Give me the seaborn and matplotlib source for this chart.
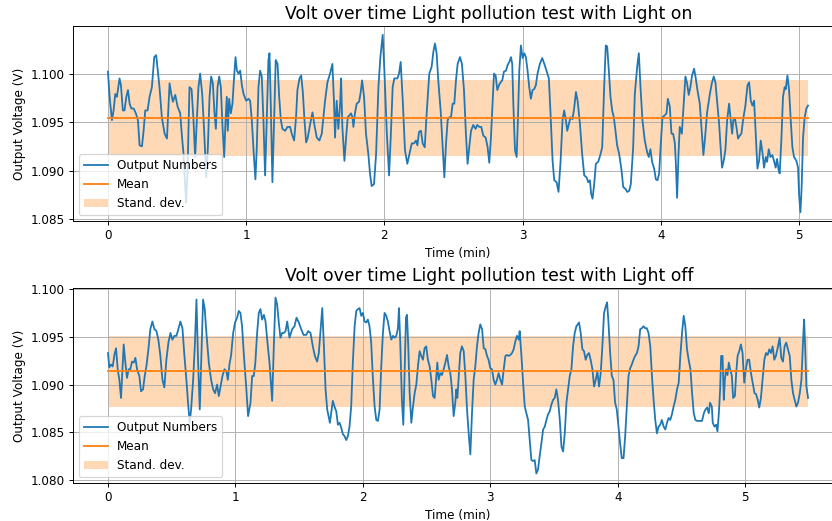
import numpy as np
import pandas as pd
import matplotlib
matplotlib.use("Agg")
import matplotlib.pyplot as plt
import seaborn as sns
from matplotlib.ticker import FormatStrFormatter

# light on run: time (min) and output voltage (V)
t_on = [
    0.000, 0.012, 0.029, 0.041, 0.053, 0.065, 0.084, 0.094, 0.108, 0.120,
    0.133, 0.145, 0.157, 0.169, 0.186, 0.202, 0.217, 0.229, 0.246, 0.258,
    0.270, 0.287, 0.301, 0.318, 0.335, 0.349, 0.361, 0.373, 0.390, 0.410,
    0.427, 0.446, 0.458, 0.470, 0.487, 0.504, 0.523, 0.535, 0.547, 0.559,
    0.566, 0.576, 0.590, 0.605, 0.619, 0.631, 0.643, 0.655, 0.667, 0.682,
    0.696, 0.711, 0.723, 0.735, 0.747, 0.759, 0.771, 0.781, 0.793, 0.805,
    0.817, 0.829, 0.841, 0.851, 0.860, 0.867, 0.877, 0.889, 0.901, 0.913,
    0.923, 0.933, 0.945, 0.957, 0.969, 0.981, 1.000, 1.017, 1.029, 1.041,
    1.055, 1.067, 1.077, 1.089, 1.101, 1.113, 1.125, 1.137, 1.149, 1.161,
    1.169, 1.178, 1.190, 1.202, 1.214, 1.227, 1.239, 1.251, 1.263, 1.282,
    1.299, 1.318, 1.330, 1.347, 1.361, 1.371, 1.386, 1.398, 1.410, 1.422,
    1.434, 1.446, 1.463, 1.480, 1.494, 1.511, 1.530, 1.547, 1.571, 1.588,
    1.607,
    1.624, 1.636, 1.643, 1.655, 1.667, 1.680, 1.687, 1.696, 1.711, 1.723,
    1.735, 1.747, 1.759, 1.769, 1.776, 1.788, 1.800, 1.817, 1.829, 1.839,
    1.853, 1.867, 1.884, 1.896, 1.908, 1.925, 1.940, 1.957, 1.971, 1.988,
    2.000, 2.017, 2.034, 2.046, 2.060, 2.072, 2.094, 2.106, 2.118, 2.133,
    2.149, 2.166, 2.181, 2.198, 2.214, 2.229, 2.239, 2.251, 2.265, 2.277,
    2.292, 2.306, 2.325, 2.342, 2.354, 2.366, 2.378, 2.390, 2.407, 2.422,
    2.434, 2.446, 2.458, 2.470, 2.482, 2.494, 2.506, 2.518, 2.530, 2.547,
    2.561, 2.576, 2.590, 2.602, 2.614, 2.627, 2.643, 2.660, 2.672, 2.687,
    2.701, 2.716, 2.733, 2.747, 2.759, 2.771, 2.784, 2.793, 2.805, 2.817,
    2.829, 2.841, 2.853, 2.865, 2.880, 2.892, 2.904, 2.916, 2.925, 2.933,
    2.945, 2.957, 2.966, 2.976, 2.988, 3.000, 3.012, 3.024, 3.036, 3.048,
    3.060, 3.072, 3.084, 3.096, 3.108, 3.125, 3.142, 3.157, 3.173, 3.190,
    3.202, 3.217, 3.229, 3.246, 3.260, 3.275, 3.289, 3.301, 3.313, 3.323,
    3.335, 3.347, 3.361, 3.373, 3.386, 3.398, 3.415,
    3.431, 3.446, 3.463, 3.475, 3.487, 3.496, 3.506, 3.518, 3.530, 3.547,
    3.564, 3.576, 3.590, 3.602, 3.612, 3.624, 3.636, 3.648, 3.660, 3.672,
    3.684, 3.699, 3.716, 3.728, 3.745, 3.757, 3.771, 3.783, 3.800, 3.812,
    3.829, 3.841, 3.853, 3.867, 3.884, 3.901, 3.913, 3.925, 3.937, 3.952,
    3.964, 3.976, 3.988, 4.000, 4.012, 4.029, 4.041, 4.051, 4.065, 4.077,
    4.089, 4.101, 4.108, 4.118, 4.128, 4.137, 4.152, 4.166, 4.178, 4.190,
    4.202, 4.214, 4.226, 4.241, 4.253, 4.265, 4.282, 4.296, 4.308, 4.320,
    4.335, 4.354, 4.369, 4.383, 4.395, 4.407, 4.422, 4.434, 4.443, 4.455,
    4.467, 4.480, 4.494, 4.506, 4.516, 4.525, 4.537, 4.547, 4.559, 4.571,
    4.583, 4.595, 4.612, 4.627, 4.639, 4.651, 4.663, 4.675, 4.687, 4.699,
    4.711, 4.723, 4.735, 4.747, 4.759, 4.769, 4.781, 4.793, 4.807, 4.819,
    4.831, 4.841, 4.853, 4.860, 4.872, 4.884, 4.896, 4.904, 4.916, 4.928,
    4.940, 4.952, 4.964, 4.981, 4.993, 5.000, 5.010, 5.019, 5.029, 5.041,
    5.053, 5.065,
]
v_on = [
    1.1002, 1.0976, 1.0952, 1.0962, 1.0979, 1.0976, 1.0995, 1.0988, 1.0962, 1.0962,
    1.0976, 1.0983, 1.0969, 1.0964, 1.0964, 1.0959, 1.0952, 1.0926, 1.0925, 1.0941,
    1.0962, 1.0962, 1.0976, 1.0986, 1.1017, 1.1019, 1.1003, 1.0986, 1.0955, 1.0938,
    1.0933, 1.0990, 1.0979, 1.0971, 1.0978, 1.0966, 1.0959, 1.0936, 1.0917, 1.0883,
    1.0867, 1.0900, 1.0986, 1.0984, 1.0952, 1.0914, 1.0952, 1.0986, 1.1000, 1.0979,
    1.0941, 1.0893, 1.0924, 1.0976, 1.0997, 1.0990, 1.0959, 1.0943, 1.0986, 1.0997,
    1.0986, 1.0945, 1.0914, 1.0952, 1.0976, 1.0941, 1.0974, 1.0959, 1.0969, 1.0997,
    1.1017, 1.1003, 1.1000, 1.1003, 1.0988, 1.0979, 1.0972, 1.0974, 1.0972, 1.0952,
    1.0917, 1.0891, 1.0924, 1.0986, 1.1003, 1.0997, 1.0952, 1.0895, 1.0952, 1.1014,
    1.1021, 1.0969, 1.0888, 1.0952, 1.1014, 1.1010, 1.0976, 1.0952, 1.0943, 1.0941,
    1.0945, 1.0945, 1.0938, 1.0931, 1.0955, 1.0983, 1.0995, 1.0998, 1.0981, 1.0952,
    1.0929, 1.0934, 1.0948, 1.0960, 1.0947, 1.0934, 1.0931, 1.0938, 1.0972, 1.0991,
    1.1000,
    1.1010, 1.0969, 1.0934, 1.0972, 1.0943, 1.0969, 1.0995, 1.0945, 1.0910, 1.0934,
    1.0955, 1.0957, 1.0959, 1.0955, 1.0945, 1.0960, 1.0969, 1.0971, 1.0981, 1.0993,
    1.0976, 1.0938, 1.0917, 1.0897, 1.0884, 1.0886, 1.0917, 1.0986, 1.1017, 1.1040,
    1.1003, 1.0941, 1.0895, 1.0934, 1.0986, 1.0995, 1.0995, 1.1000, 1.1012, 1.0972,
    1.0921, 1.0907, 1.0917, 1.0928, 1.0928, 1.0931, 1.0926, 1.0940, 1.0941, 1.0928,
    1.0924, 1.0959, 1.1000, 1.1007, 1.1022, 1.1031, 1.1021, 1.0993, 1.0962, 1.0924,
    1.0893, 1.0928, 1.0952, 1.0955, 1.0955, 1.0969, 1.0969, 1.0993, 1.1010, 1.1017,
    1.1010, 1.0983, 1.0938, 1.0907, 1.0924, 1.0941, 1.0947, 1.0943, 1.0947, 1.0945,
    1.0945, 1.0936, 1.0934, 1.0924, 1.0908, 1.0934, 1.0972, 1.1000, 1.0998, 1.0983,
    1.0988, 1.0991, 1.0993, 1.1002, 1.1003, 1.1009, 1.1012, 1.1017, 1.1010, 1.0969,
    1.0921, 1.0914, 1.0952, 1.1003, 1.1029, 1.1016, 1.1021, 1.1017, 1.1003, 1.0986,
    1.0974, 1.0983, 1.0984, 1.0988, 1.1000, 1.1010, 1.1016, 1.1010, 1.1003, 1.0995,
    1.0959, 1.0910, 1.0890, 1.0888, 1.0878, 1.0910, 1.0952, 1.0962, 1.0952, 1.0941,
    1.0948, 1.0955, 1.0953, 1.0964, 1.0981, 1.0972, 1.0948,
    1.0917, 1.0895, 1.0893, 1.0888, 1.0890, 1.0876, 1.0871, 1.0886, 1.0907, 1.0909,
    1.0917, 1.0924, 1.0986, 1.1029, 1.1028, 1.1003, 1.0976, 1.0962, 1.0955, 1.0941,
    1.0926, 1.0917, 1.0900, 1.0883, 1.0881, 1.0878, 1.0879, 1.0886, 1.0924, 1.0979,
    1.1007, 1.1021, 1.0986, 1.0952, 1.0931, 1.0919, 1.0914, 1.0922, 1.0909, 1.0902,
    1.0891, 1.0890, 1.0897, 1.0928, 1.0955, 1.0957, 1.0959, 1.0974, 1.0966, 1.0938,
    1.0938, 1.0929, 1.0910, 1.0872, 1.0917, 1.0945, 1.0938, 1.0969, 1.0997, 1.0990,
    1.0978, 1.0986, 1.0998, 1.1005, 1.0995, 1.0983, 1.0969, 1.0941, 1.0916, 1.0934,
    1.0960, 1.0978, 1.0990, 1.0997, 1.0991, 1.0972, 1.0948, 1.0921, 1.0903, 1.0910,
    1.0921, 1.0952, 1.0969, 1.0952, 1.0938, 1.0952, 1.0953, 1.0945, 1.0933, 1.0936,
    1.0938, 1.0952, 1.0967, 1.0988, 1.0991, 1.0972, 1.0967, 1.0972, 1.0938, 1.0902,
    1.0910, 1.0931, 1.0919, 1.0903, 1.0914, 1.0909, 1.0922, 1.0914, 1.0916, 1.0910,
    1.0903, 1.0912, 1.0900, 1.0897, 1.0931, 1.0976, 1.0986, 1.0984, 1.0998, 1.0983,
    1.0952, 1.0924, 1.0914, 1.0910, 1.0903, 1.0876, 1.0857, 1.0883, 1.0934, 1.0955,
    1.0964, 1.0967,
]

# light off run
t_off = [
    0.000, 0.010, 0.024, 0.037, 0.050, 0.063, 0.076, 0.089, 0.102, 0.113,
    0.123, 0.136, 0.149, 0.162, 0.175, 0.188, 0.202, 0.215, 0.228, 0.246,
    0.259, 0.275, 0.288, 0.301, 0.317, 0.332, 0.348, 0.364, 0.380, 0.395,
    0.411, 0.427, 0.442, 0.458, 0.474, 0.490, 0.505, 0.521, 0.537, 0.552,
    0.568, 0.584, 0.599, 0.615, 0.628, 0.641, 0.652, 0.668, 0.681, 0.694,
    0.707, 0.720, 0.733, 0.746, 0.759, 0.772, 0.791, 0.809, 0.825, 0.840,
    0.856, 0.869, 0.882, 0.898, 0.914, 0.929, 0.940, 0.953, 0.966, 0.982,
    0.997, 1.013, 1.026, 1.039, 1.052, 1.065, 1.084, 1.099, 1.118, 1.131,
    1.144, 1.156, 1.170, 1.183, 1.196, 1.209, 1.223, 1.236, 1.249, 1.267,
    1.288, 1.301, 1.314, 1.327, 1.340, 1.353, 1.366, 1.380, 1.393, 1.406,
    1.424, 1.445, 1.463, 1.479, 1.497, 1.516, 1.534, 1.555, 1.571, 1.589,
    1.607, 1.623, 1.641, 1.654, 1.668, 1.681, 1.694, 1.707, 1.720, 1.741,
    1.751, 1.764, 1.777, 1.791, 1.804, 1.817, 1.830, 1.843, 1.856, 1.869,
    1.882, 1.895, 1.908, 1.921, 1.935, 1.948, 1.961, 1.974, 1.987, 2.000,
    2.013, 2.026, 2.039, 2.052, 2.065, 2.079, 2.092, 2.105, 2.118, 2.131,
    2.144, 2.157, 2.170, 2.183, 2.196, 2.209, 2.223, 2.236, 2.249, 2.262,
    2.275, 2.283, 2.293, 2.306, 2.317, 2.327, 2.338, 2.346, 2.356, 2.367,
    2.380, 2.393, 2.406, 2.419, 2.432, 2.445, 2.458, 2.471, 2.484, 2.497,
    2.510, 2.524, 2.537, 2.550, 2.563, 2.576, 2.584, 2.594, 2.607, 2.620,
    2.634, 2.647, 2.660, 2.673, 2.686, 2.699, 2.712, 2.725, 2.733, 2.741,
    2.754, 2.764, 2.777, 2.791, 2.804, 2.817, 2.830, 2.843, 2.856, 2.869,
    2.882, 2.895, 2.908, 2.921, 2.935, 2.948, 2.961, 2.974, 2.986, 3.000,
    3.013, 3.026, 3.039, 3.052, 3.065, 3.079, 3.092, 3.105, 3.118, 3.131,
    3.144, 3.157, 3.170, 3.183, 3.196, 3.209, 3.223, 3.230, 3.244, 3.257,
    3.270, 3.283, 3.296, 3.309, 3.322, 3.335, 3.348, 3.361, 3.374, 3.387,
    3.401, 3.414, 3.427, 3.440, 3.453, 3.466, 3.479, 3.492, 3.505, 3.518,
    3.531, 3.545, 3.558, 3.571, 3.584, 3.597, 3.610, 3.623, 3.636, 3.649,
    3.662, 3.675, 3.696,
    3.709, 3.722, 3.735, 3.748, 3.761, 3.774, 3.787, 3.801, 3.814, 3.827,
    3.840, 3.853, 3.866, 3.879, 3.892, 3.906, 3.916, 3.927, 3.940, 3.953,
    3.966, 3.979, 3.992, 4.005, 4.018, 4.031, 4.045, 4.058, 4.071, 4.084,
    4.097, 4.110, 4.123, 4.136, 4.150, 4.163, 4.176, 4.189, 4.202, 4.215,
    4.228, 4.241, 4.255, 4.268, 4.281, 4.294, 4.307, 4.320, 4.333, 4.346,
    4.360, 4.373, 4.386, 4.399, 4.412, 4.425, 4.438, 4.451, 4.465, 4.478,
    4.491, 4.504, 4.517, 4.530, 4.543, 4.556, 4.570, 4.583, 4.596, 4.609,
    4.622, 4.635, 4.648, 4.661, 4.675, 4.688, 4.701, 4.714, 4.724, 4.738,
    4.745, 4.759, 4.772, 4.782, 4.793, 4.803, 4.811, 4.822, 4.832, 4.840,
    4.850, 4.861, 4.871, 4.882, 4.895, 4.905, 4.919, 4.929, 4.940, 4.953,
    4.966, 4.979, 4.992, 5.005, 5.018, 5.031, 5.045, 5.058, 5.073, 5.085,
    5.098, 5.110, 5.123, 5.136, 5.150, 5.163, 5.176, 5.189, 5.202, 5.215,
    5.228, 5.241, 5.257, 5.270, 5.283, 5.296, 5.309, 5.322, 5.335, 5.349,
    5.362, 5.375, 5.388, 5.401, 5.414, 5.428, 5.441, 5.454, 5.462, 5.470,
    5.480, 5.493,
]
v_off = [
    1.0933, 1.0918, 1.0921, 1.0919, 1.0931, 1.0938, 1.0916, 1.0905, 1.0886, 1.0916,
    1.0942, 1.0923, 1.0907, 1.0916, 1.0916, 1.0924, 1.0923, 1.0928, 1.0916, 1.0909,
    1.0893, 1.0895, 1.0909, 1.0919, 1.0937, 1.0958, 1.0966, 1.0958, 1.0956, 1.0947,
    1.0930, 1.0905, 1.0897, 1.0926, 1.0944, 1.0954, 1.0947, 1.0951, 1.0951, 1.0958,
    1.0966, 1.0959, 1.0931, 1.0905, 1.0881, 1.0860, 1.0874, 1.0905, 1.0940, 1.0989,
    1.0923, 1.0874, 1.0930, 1.0989, 1.0979, 1.0954, 1.0923, 1.0905, 1.0895, 1.0891,
    1.0900, 1.0888, 1.0897, 1.0909, 1.0916, 1.0914, 1.0905, 1.0921, 1.0931, 1.0954,
    1.0965, 1.0970, 1.0977, 1.0975, 1.0961, 1.0933, 1.0898, 1.0867, 1.0881, 1.0909,
    1.0909, 1.0923, 1.0954, 1.0975, 1.0979, 1.0968, 1.0973, 1.0966, 1.0947, 1.0923,
    1.0883, 1.0940, 1.0991, 1.0984, 1.0965, 1.0949, 1.0954, 1.0954, 1.0956, 1.0966,
    1.0949, 1.0958, 1.0961, 1.0970, 1.0965, 1.0958, 1.0952, 1.0952, 1.0956, 1.0954,
    1.0940, 1.0930, 1.0924, 1.0933, 1.0958, 1.0980, 1.0940, 1.0895, 1.0874, 1.0860,
    1.0870, 1.0883, 1.0877, 1.0872, 1.0858, 1.0860, 1.0855, 1.0848, 1.0846, 1.0842,
    1.0846, 1.0856, 1.0877, 1.0923, 1.0961, 1.0977, 1.0979, 1.0980, 1.0972, 1.0975,
    1.0966, 1.0965, 1.0968, 1.0961, 1.0944, 1.0905, 1.0877, 1.0863, 1.0862, 1.0874,
    1.0919, 1.0954, 1.0975, 1.0972, 1.0966, 1.0956, 1.0947, 1.0951, 1.0949, 1.0951,
    1.0959, 1.0980, 1.0944, 1.0884, 1.0858, 1.0912, 1.0970, 1.0973, 1.0940, 1.0891,
    1.0860, 1.0877, 1.0891, 1.0900, 1.0919, 1.0935, 1.0930, 1.0926, 1.0938, 1.0940,
    1.0926, 1.0919, 1.0905, 1.0888, 1.0886, 1.0909, 1.0923, 1.0905, 1.0912, 1.0910,
    1.0916, 1.0923, 1.0931, 1.0919, 1.0912, 1.0895, 1.0867, 1.0881, 1.0895, 1.0886,
    1.0912, 1.0933, 1.0940, 1.0935, 1.0909, 1.0874, 1.0849, 1.0827, 1.0870, 1.0905,
    1.0919, 1.0940, 1.0954, 1.0963, 1.0958, 1.0938, 1.0937, 1.0930, 1.0926, 1.0917,
    1.0916, 1.0905, 1.0900, 1.0905, 1.0912, 1.0905, 1.0900, 1.0916, 1.0930, 1.0931,
    1.0930, 1.0931, 1.0933, 1.0937, 1.0945, 1.0951, 1.0947, 1.0956, 1.0930, 1.0902,
    1.0877, 1.0870, 1.0863, 1.0842, 1.0821, 1.0820, 1.0821, 1.0807, 1.0811, 1.0825,
    1.0839, 1.0853, 1.0856, 1.0863, 1.0869, 1.0872, 1.0879, 1.0884, 1.0886, 1.0895,
    1.0884, 1.0863, 1.0835, 1.0830, 1.0849, 1.0881, 1.0895, 1.0909, 1.0916, 1.0940,
    1.0954, 1.0961, 1.0965,
    1.0954, 1.0937, 1.0935, 1.0926, 1.0931, 1.0933, 1.0926, 1.0916, 1.0898, 1.0905,
    1.0914, 1.0898, 1.0912, 1.0940, 1.0975, 1.0982, 1.0986, 1.0965, 1.0933, 1.0909,
    1.0905, 1.0881, 1.0874, 1.0856, 1.0839, 1.0823, 1.0823, 1.0846, 1.0877, 1.0909,
    1.0917, 1.0921, 1.0926, 1.0930, 1.0933, 1.0940, 1.0958, 1.0959, 1.0961, 1.0959,
    1.0959, 1.0954, 1.0940, 1.0909, 1.0884, 1.0863, 1.0849, 1.0856, 1.0858, 1.0863,
    1.0856, 1.0853, 1.0860, 1.0865, 1.0863, 1.0869, 1.0877, 1.0884, 1.0895, 1.0902,
    1.0930, 1.0954, 1.0972, 1.0961, 1.0937, 1.0926, 1.0916, 1.0891, 1.0870, 1.0863,
    1.0862, 1.0862, 1.0862, 1.0862, 1.0870, 1.0874, 1.0876, 1.0870, 1.0881, 1.0877,
    1.0860, 1.0856, 1.0858, 1.0851, 1.0870, 1.0895, 1.0930, 1.0930, 1.0884, 1.0905,
    1.0916, 1.0910, 1.0923, 1.0916, 1.0909, 1.0886, 1.0888, 1.0912, 1.0930, 1.0935,
    1.0942, 1.0933, 1.0902, 1.0916, 1.0926, 1.0926, 1.0912, 1.0902, 1.0891, 1.0890,
    1.0884, 1.0876, 1.0886, 1.0905, 1.0926, 1.0933, 1.0931, 1.0937, 1.0933, 1.0940,
    1.0926, 1.0930, 1.0940, 1.0949, 1.0928, 1.0924, 1.0940, 1.0944, 1.0937, 1.0930,
    1.0905, 1.0891, 1.0884, 1.0877, 1.0881, 1.0891, 1.0905, 1.0947, 1.0968, 1.0940,
    1.0898, 1.0886,
]

# mean and standard deviation as shown in the plot
mean_on, std_on = 1.0954, 0.0039
mean_off, std_off = 1.0914, 0.0037

titles = ["Volt over time Light pollution test with Light on",
          "Volt over time Light pollution test with Light off"]

runs = [(t_on, v_on, mean_on, std_on, (-0.253, 5.318), (1.0848, 1.1049)),
        (t_off, v_off, mean_off, std_off, (-0.275, 5.767), (1.0797, 1.1001))]

dpi = 86.4
fig, axes = plt.subplots(2, 1, figsize=(832 / dpi, 521 / dpi), dpi=dpi)
fig.subplots_adjust(left=0.0877, right=1.0132, top=0.950, bottom=0.0729, hspace=0.344)

for ax, (t, v, m, s, xl, yl), title in zip(axes, runs, titles):
    df = pd.DataFrame({"time": t, "volt": v})
    sns.lineplot(data=df, x="time", y="volt", ax=ax, color="C0", linewidth=1.5,
                 estimator=None, sort=False, label="Output Numbers")
    ends = pd.DataFrame({"time": [t[0], t[-1]], "volt": [m, m]})
    sns.lineplot(data=ends, x="time", y="volt", ax=ax, color="C1", linewidth=1.5,
                 estimator=None, sort=False, label="Mean")
    ax.fill_between([t[0], t[-1]], m - s, m + s, color="C1", alpha=0.3,
                    linewidth=0, label="Stand. dev.")
    ax.set_xlim(*xl)
    ax.set_ylim(*yl)
    ax.yaxis.set_major_formatter(FormatStrFormatter("%.3f"))
    ax.grid(True)
    ax.set_title(title, fontsize="x-large", x=0.54)
    ax.set_xlabel("Time (min)")
    ax.set_ylabel("Output Voltage (V)")
    ax.legend(loc="lower left")

fig.savefig("out.png", dpi=dpi)
